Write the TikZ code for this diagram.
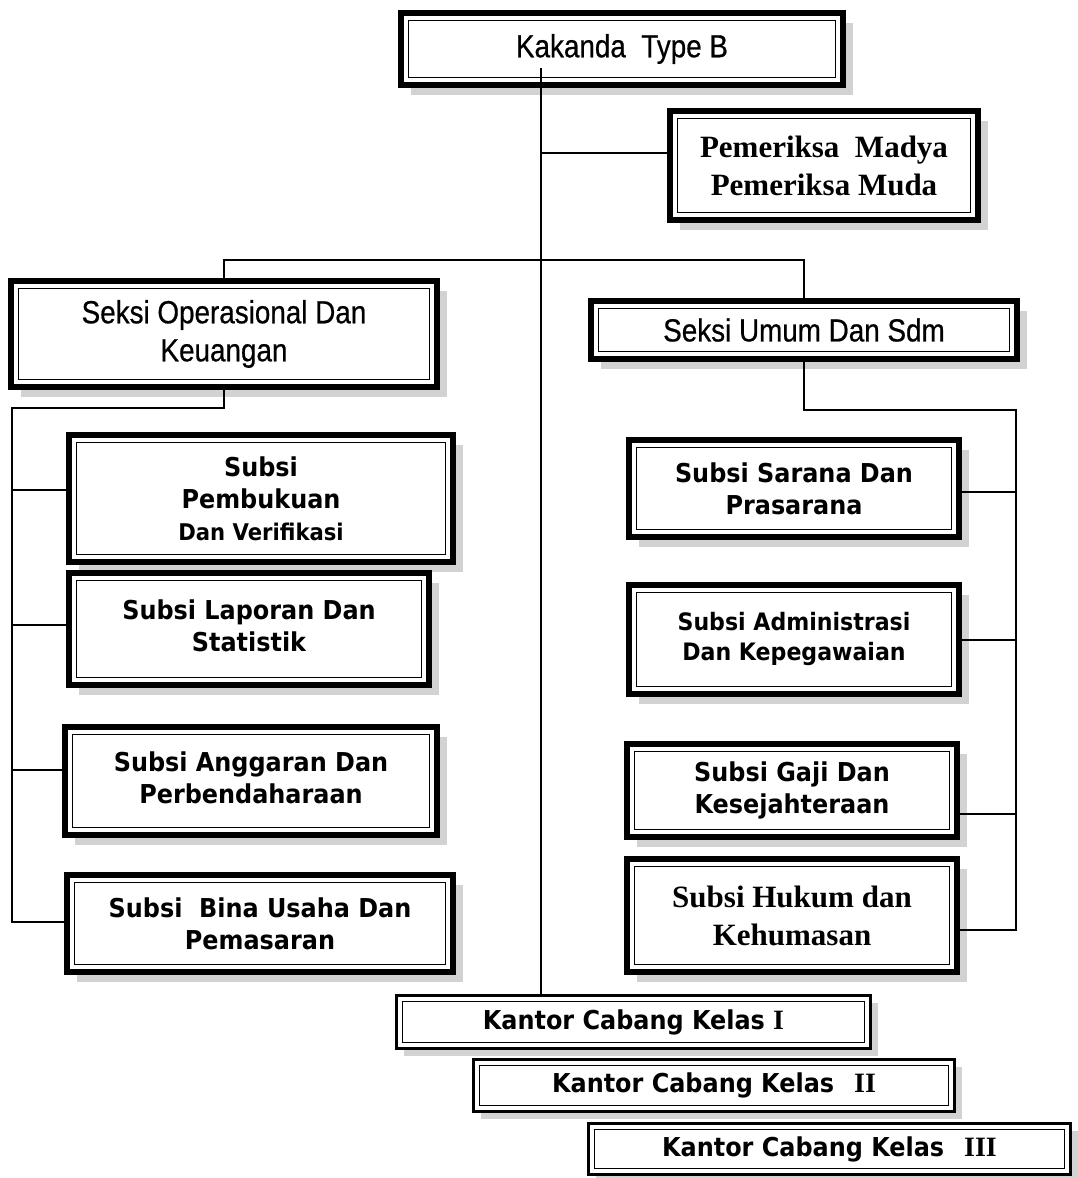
\documentclass[tikz,border=0pt]{standalone}
\usepackage{fontspec}
\usetikzlibrary{shadows}
\newfontfamily\nfont{Liberation Sans}[FakeStretch=0.87,FakeBold=0.6]
\newfontfamily\vfont{DejaVu Sans}[FakeStretch=0.92]
\newfontfamily\tfont{Liberation Serif}
\tikzset{
  box/.style={draw, line width=6pt, fill=white, inner sep=0pt, align=center,
    general shadow={fill=gray!35, shadow xshift=10pt, shadow yshift=-10pt},
    path picture={\draw[line width=1.4pt]
      ([xshift=7.5pt,yshift=-7.5pt]path picture bounding box.north west) rectangle
      ([xshift=-7.5pt,yshift=7.5pt]path picture bounding box.south east);}},
  thinbox/.style={draw, line width=3pt, fill=white, inner sep=0pt, align=center,
    general shadow={fill=gray!35, shadow xshift=7pt, shadow yshift=-7pt},
    path picture={\draw[line width=1.3pt]
      ([xshift=6pt,yshift=-6pt]path picture bounding box.north west) rectangle
      ([xshift=-6pt,yshift=6pt]path picture bounding box.south east);}},
  conn/.style={line width=1.6pt},
  nf/.style={font=\nfont\fontsize{32}{38}\selectfont},
  vf/.style={font=\vfont\bfseries\fontsize{26}{32}\selectfont},
  tf/.style={font=\tfont\bfseries\fontsize{31}{38}\selectfont},
  kf/.style={font=\vfont\bfseries\fontsize{26}{30}\selectfont},
}
\newcommand{\rn}[1]{{\tfont\bfseries\fontsize{28}{30}\selectfont #1}}
\newcommand{\uptext}[2]{\raisebox{#1}{\begin{tabular}{@{}c@{}}#2\end{tabular}}}
\begin{document}
\begin{tikzpicture}[x=1pt,y=-1pt]
\useasboundingbox (0,0) rectangle (1078,1178);
% boxes
\node[box,nf,minimum width=442pt,minimum height=72pt] (k) at (622,49) {Kakanda\ \ Type B};
\node[box,tf,minimum width=308pt,minimum height=109pt] (pm) at (824,165.5) {Pemeriksa\ \ Madya\\Pemeriksa Muda};
\node[box,nf,minimum width=426pt,minimum height=106pt] (so) at (224,334) {Seksi Operasional Dan\\Keuangan};
\node[box,nf,minimum width=426pt,minimum height=58pt] (su) at (804,330) {Seksi Umum Dan Sdm};
\node[box,vf,minimum width=384pt,minimum height=127pt] (pb) at (261,498.5) {Subsi\\Pembukuan\\{\fontsize{23}{28}\selectfont Dan Verifikasi}};
\node[box,vf,minimum width=360pt,minimum height=112pt] (lp) at (249,629) {\uptext{8pt}{Subsi Laporan Dan\\Statistik}};
\node[box,vf,minimum width=372pt,minimum height=108pt] (ag) at (251,781) {\uptext{3pt}{Subsi Anggaran Dan\\Perbendaharaan}};
\node[box,vf,minimum width=386pt,minimum height=97pt] (bu) at (260,923.5) {Subsi\ \ Bina Usaha Dan\\Pemasaran};
\node[box,vf,minimum width=330pt,minimum height=97pt] (sr) at (794,488.5) {Subsi Sarana Dan\\Prasarana};
\node[box,vf,font=\vfont\bfseries\fontsize{24}{30}\selectfont,minimum width=330pt,minimum height=109pt] (ad) at (794,639.5) {\uptext{11pt}{Subsi Administrasi\\Dan Kepegawaian}};
\node[box,vf,minimum width=330pt,minimum height=93pt] (gj) at (792,790.5) {Subsi Gaji Dan\\Kesejahteraan};
\node[box,tf,minimum width=330pt,minimum height=113pt] (hk) at (792,915.5) {Subsi Hukum dan\\Kehumasan};
\node[thinbox,kf,minimum width=474pt,minimum height=53pt] (kc1) at (633.5,1022) {Kantor Cabang Kelas \rn{I}};
\node[thinbox,kf,minimum width=481pt,minimum height=52pt] (kc2) at (714,1085.5) {Kantor Cabang Kelas\hspace{20pt}\rn{II}};
\node[thinbox,kf,minimum width=482pt,minimum height=51pt] (kc3) at (829.5,1149) {Kantor Cabang Kelas\hspace{20pt}\rn{III}};
% connectors
\coordinate (top) at (541,68);
\draw[conn] (top) -- (top |- kc1.north);
\coordinate (pmj) at (541,153);
\draw[conn] (pmj) -- (pmj -| pm.west);
\coordinate (sb) at (541,260);
\draw[conn] (so.north) |- (sb) -| (su.north);
\coordinate (lb) at (12,408);
\draw[conn] (so.south) |- (lb) -- (12,922) -- (bu.west |- 12,922);
\draw[conn] (12,490) -- (pb.west |- 12,490);
\draw[conn] (12,625) -- (lp.west |- 12,625);
\draw[conn] (12,770) -- (ag.west |- 12,770);
\coordinate (rb) at (1016,410);
\draw[conn] (su.south) |- (rb) -- (1016,930) -- (hk.east |- 1016,930);
\draw[conn] (1016,492) -- (sr.east |- 1016,492);
\draw[conn] (1016,640) -- (ad.east |- 1016,640);
\draw[conn] (1016,814) -- (gj.east |- 1016,814);
\end{tikzpicture}
\end{document}
